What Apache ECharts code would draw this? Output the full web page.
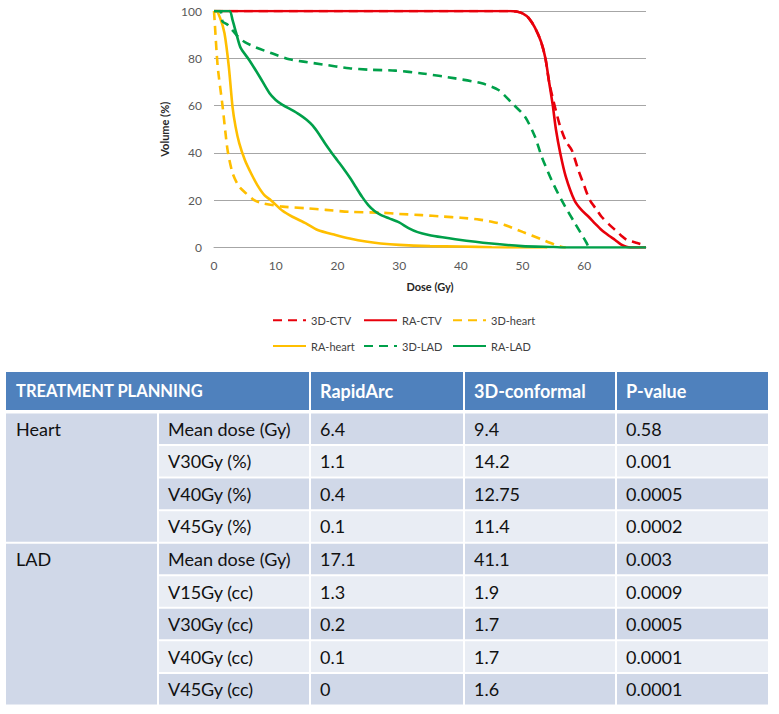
<!DOCTYPE html>
<html>
<head>
<meta charset="utf-8">
<script src="https://cdn.jsdelivr.net/npm/echarts@6/dist/echarts.min.js"></script>
<style>
html,body{margin:0;padding:0;background:#fff;}
#chart{width:779px;height:714px;}
</style>
</head>
<body>
<div id="chart"></div>
<script>
// ---- DVH curve data: [dose (Gy), volume (%)] ----
const ctv3D = [[0,100],[48,100],[49,99.8],[50,99],[51,97],[52,93],[53,87],[53.7,80],[54.3,70],[55,62],[56,52],[57,45],[58,41],[59,33],[60,26],[60.9,20],[62,16],[62.8,13],[64,9.8],[65,7.4],[66,5],[66.9,3.2],[68,2.3],[68.7,1.8],[69.6,1.1]];
const ctvRA = [[0,100],[48,100],[49,99.8],[50,99],[51,97],[52,93],[53,87],[53.7,80],[54.3,70],[54.9,60],[55.4,50],[56.1,40],[57,30],[58.4,20],[59.5,16],[60.7,13],[61.8,10],[62.8,7.4],[64,5],[65,3.2],[66,1.2],[66.8,0.3],[67.5,0],[70,0]];
const heart3D = [[0,100],[0.1,96],[0.6,76.5],[1.4,59.5],[2.2,41.2],[3,31.5],[4,26],[5.2,22.9],[6.5,20],[7.9,18.7],[11.1,17.3],[14.9,16.6],[18.1,15.9],[21.9,15.1],[27.2,14.7],[30,14.2],[33.7,13.7],[37,13.1],[40,12.6],[43,11.8],[45,10.9],[47,9.6],[50,6.6],[53,3.5],[55.3,1.1],[56.4,0.2],[57,0]];
const heartRA = [[0,100],[0.35,100],[1,97],[1.7,90.6],[2.4,76.5],[3,59.5],[3.5,51],[4.1,44],[5,37],[6,31.4],[7,26.5],[8.2,22],[9.2,20],[11.1,15.5],[12.7,13],[14.9,10.2],[16.8,7.4],[19.7,5.3],[22,3.8],[24.6,2.5],[27,1.7],[30,1.1],[35,0.6],[40,0.4],[45,0.1],[50,0],[54,0]];
const lad3D = [[0,100],[1,100],[1.4,95.5],[2.2,94.2],[3.9,89.1],[5,86.8],[6.8,84.6],[9.5,82],[12.2,79.6],[14.5,78.6],[17.6,77.4],[21.9,75.8],[25,75.2],[29.4,74.8],[33.7,73.6],[39.1,71.5],[43.4,69.4],[46.1,66.6],[48.3,61],[50.4,55.3],[52,46.9],[53.1,38.4],[54.7,28.5],[56.3,20.1],[58.5,10.2],[60.4,1.8],[60.7,0]];
const ladRA = [[0,100],[2.5,100],[3,96.2],[3.6,90.6],[4.3,84.5],[5.7,79.3],[7.4,72.2],[9,65.2],[10,62.4],[11.1,60.3],[12.5,58.3],[13.8,56.3],[15,54],[16,51.5],[17,48],[18,44],[19,40.3],[20,36.8],[21,33.3],[22,29.6],[23,25.5],[24,21.4],[25,17.9],[26,15.4],[27,13.8],[28.4,12.3],[30,10.6],[31.6,8.1],[33,6.5],[34.8,5.3],[37,4.3],[39.1,3.5],[44.5,1.8],[49.9,0.6],[55,0.2],[57,0],[70,0]];

const seriesNames = ['3D-CTV','RA-CTV','3D-heart','RA-heart','3D-LAD','RA-LAD'];
const xTicks = [0,10,20,30,40,50,60];
const yTicks = [0,20,40,60,80,100];

// ---- table data ----
const tableHeader = ['TREATMENT PLANNING','RapidArc','3D-conformal','P-value'];
const organs = ['Heart','LAD'];
const organRowCounts = [4,5];
const parameters = ['Mean dose (Gy)','V30Gy (%)','V40Gy (%)','V45Gy (%)','Mean dose (Gy)','V15Gy (cc)','V30Gy (cc)','V40Gy (cc)','V45Gy (cc)'];
const rapidArc = ['6.4','1.1','0.4','0.1','17.1','1.3','0.2','0.1','0'];
const conformal3D = ['9.4','14.2','12.75','11.4','41.1','1.9','1.7','1.7','1.6'];
const pValues = ['0.58','0.001','0.0005','0.0002','0.003','0.0009','0.0005','0.0001','0.0001'];

const RED = '#e8000b', GOLD = '#ffbf00', GREEN = '#00a04a';
const DASH = [9,6];
const seriesData = [ctv3D, ctvRA, heart3D, heartRA, lad3D, ladRA];
const seriesColors = [RED, RED, GOLD, GOLD, GREEN, GREEN];
const seriesDashed = [true,false,true,false,true,false];

const series = seriesNames.map((n,i)=>({
  name:n, type:'line', data:seriesData[i], symbol:'none', smooth:0.25,
  color:seriesColors[i],
  lineStyle:{color:seriesColors[i], width:2.6, type: seriesDashed[i]?DASH:'solid', cap:'butt'},
  emphasis:{disabled:true}, z: 2+i
}));

// ---- table graphics ----
const FONT = 'Lato, "Open Sans", sans-serif';
const colX = [6,158,310,464,616,768];
const headerTop = 372, headerH = 39, bodyTop = 412.5, rowH = 32.55;
const HEAD = '#4f81bd', BAND1 = '#d0d8e8', BAND2 = '#e9edf4';
const g = [];
function cell(x0,x1,y0,y1,fill){
  g.push({type:'rect', silent:true, shape:{x:x0+1,y:y0+1,width:x1-x0-2,height:y1-y0-2}, style:{fill:fill}});
}
function txt(s,x,y,bold,color,size){
  g.push({type:'text', silent:true, x:x, y:y, style:{text:s, fill:color, font:(bold?'bold ':'')+(size||18)+'px '+FONT, verticalAlign:'middle', align:'left'}});
}
// header
cell(colX[0]-1,colX[2],headerTop-1,headerTop+headerH,HEAD);
for(let c=2;c<5;c++) cell(colX[c],colX[c+1]+(c===4?1:0),headerTop-1,headerTop+headerH,HEAD);
txt(tableHeader[0],colX[0]+10,headerTop+headerH/2-1,true,'#fff',16.5);
for(let c=1;c<4;c++) txt(tableHeader[c],colX[c+1]+10,headerTop+headerH/2-1,true,'#fff');
// organ column
let r0=0;
organs.forEach((o,k)=>{
  const y0=bodyTop+r0*rowH, y1=bodyTop+(r0+organRowCounts[k])*rowH;
  cell(colX[0]-1,colX[1],y0,y1,BAND1);
  txt(o,colX[0]+10,y0+rowH/2,false,'#111');
  r0+=organRowCounts[k];
});
// body cells
const cols = [parameters, rapidArc, conformal3D, pValues];
parameters.forEach((p,i)=>{
  const y0=bodyTop+i*rowH, y1=y0+rowH;
  const fill = i%2===0?BAND1:BAND2;
  for(let c=1;c<5;c++){
    cell(colX[c],colX[c+1]+(c===4?1:0),y0,y1,fill);
    txt(cols[c-1][i],colX[c]+10,y0+rowH/2,false,'#111');
  }
});

const legendBase = {orient:'vertical', itemWidth:33, itemHeight:14, itemGap:14.5, padding:0,
  itemStyle:{color:'rgba(0,0,0,0)', borderColor:'rgba(0,0,0,0)', borderWidth:0, opacity:0},
  textStyle:{fontSize:11, color:'#404040', fontFamily:FONT}, selectedMode:false, top:314.7};

const option = {
  animation:false,
  backgroundColor:'#fff',
  textStyle:{fontFamily:FONT},
  grid:{left:214, right:133, top:11, bottom:466.5},
  xAxis:{type:'value', min:0, max:70, interval:10,
    name:'Dose (Gy)', nameLocation:'middle', nameGap:33,
    nameTextStyle:{fontWeight:'bold', fontSize:11, color:'#262626', fontFamily:FONT},
    axisLine:{show:true, lineStyle:{color:'#a6a6a6', width:1}},
    axisTick:{show:false},
    axisLabel:{fontSize:12, color:'#595959', margin:12, fontFamily:FONT,
      formatter:(v)=> xTicks.indexOf(v)>=0 ? String(v) : ''},
    splitLine:{show:false}},
  yAxis:{type:'value', min:0, max:100, interval:20,
    name:'Volume (%)', nameLocation:'middle', nameGap:38, nameRotate:90,
    nameTextStyle:{fontWeight:'bold', fontSize:11, color:'#262626', fontFamily:FONT},
    axisLine:{show:false}, axisTick:{show:false},
    axisLabel:{fontSize:12, color:'#595959', margin:12, fontFamily:FONT,
      formatter:(v)=> yTicks.indexOf(v)>=0 ? String(v) : ''},
    splitLine:{show:true, lineStyle:{color:'#a6a6a6', width:1}}},
  legend:[
    Object.assign({}, legendBase, {left:272, data:[seriesNames[0], seriesNames[3]]}),
    Object.assign({}, legendBase, {left:363, data:[seriesNames[1], seriesNames[4]]}),
    Object.assign({}, legendBase, {left:452, data:[seriesNames[2], seriesNames[5]]})
  ],
  series: series,
  graphic: g
};
const chart = echarts.init(document.getElementById('chart'), null, {renderer:'svg'});
chart.setOption(option);
</script>
</body>
</html>
